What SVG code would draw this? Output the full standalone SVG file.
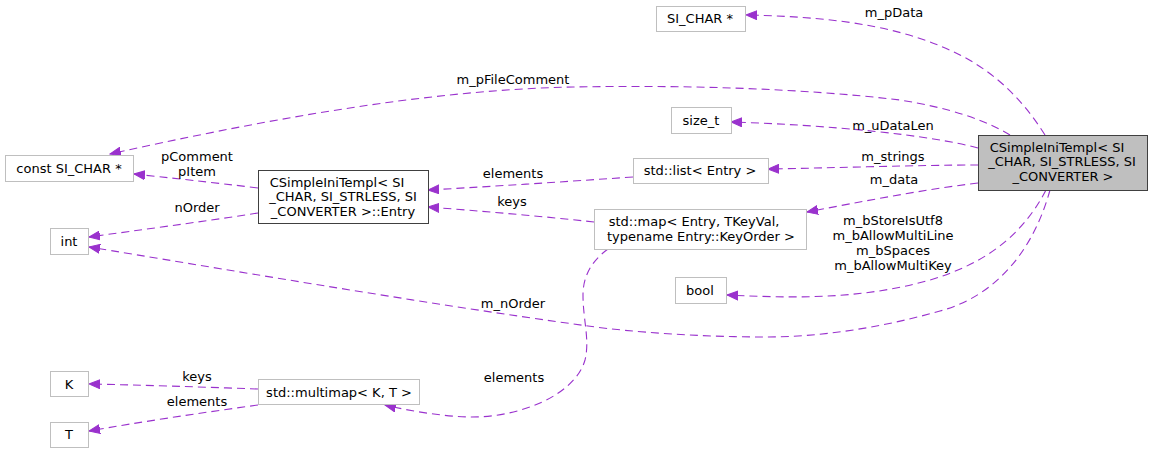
<svg xmlns="http://www.w3.org/2000/svg" width="1153" height="453" viewBox="0 0 1153 453">
<defs>
<style>
text{font-family:"DejaVu Sans","Liberation Sans",sans-serif;font-size:13px;fill:#000;text-anchor:middle}
.n{fill:#fff;stroke:#bfbfbf;stroke-width:1}
.nb{fill:#fff;stroke:#404040;stroke-width:1}
.nm{fill:#bfbfbf;stroke:#404040;stroke-width:1}
.e{fill:none;stroke:#9a32cd;stroke-width:1.1;stroke-dasharray:8,5;marker-end:url(#ah)}
</style>
<marker id="ah" markerUnits="userSpaceOnUse" markerWidth="12" markerHeight="10" refX="11" refY="4.5" orient="auto" viewBox="0 0 12 9">
<polygon points="0,0 11,4.5 0,9" fill="#9a32cd" stroke="#9a32cd"/>
</marker>
</defs>
<rect width="1153" height="453" fill="#fff"/>
<g id="edges">
<path class="e" d="M1045,135 C1020,95 990,70 960,55 C910,30 850,17 746,15"/>
<text x="894" y="16.5">m_pData</text>
<path class="e" d="M1010,135 C985,120 950,108 900,100 C800,88 680,85 573,87 C420,90 250,123 110,154"/>
<text x="513" y="83.5">m_pFileComment</text>
<path class="e" d="M978,148 C930,135 830,125 731,122"/>
<text x="893" y="129.5">m_uDataLen</text>
<path class="e" d="M978,165 C920,165 830,168 768,169"/>
<text x="893" y="160.5">m_strings</text>
<path class="e" d="M978,183 C920,190 860,202 807,212"/>
<text x="894" y="183.5">m_data</text>
<path class="e" d="M1046,190 C1020,240 980,265 930,280 C860,300 790,298 727,295"/>
<text x="893" y="224.5">m_bStoreIsUtf8</text>
<text x="893" y="239.5">m_bAllowMultiLine</text>
<text x="893" y="254.5">m_bSpaces</text>
<text x="893" y="269.5">m_bAllowMultiKey</text>
<path class="e" d="M1050,190 C1035,245 1000,295 940,311 C880,328 820,337 765,337 C700,337 630,332 588,326 C420,303 200,265 89,247"/>
<text x="513" y="307.5">m_nOrder</text>
<path class="e" d="M258,188 C210,182 170,178 134,174"/>
<text x="197" y="160.5">pComment</text>
<text x="197" y="175.5">pItem</text>
<path class="e" d="M258,213 C200,222 140,230 89,237"/>
<text x="197" y="211.5">nOrder</text>
<path class="e" d="M633,177 C560,182 500,186 428,190"/>
<text x="513" y="177.5">elements</text>
<path class="e" d="M594,222 C540,216 480,211 428,207"/>
<text x="512" y="205.5">keys</text>
<path class="e" d="M608,249 C590,262 583,278 583,295 C583,320 590,340 585,360 C575,395 520,418 468,417 C440,416 410,411 385,405"/>
<text x="514" y="381.5">elements</text>
<path class="e" d="M258,389 C200,387 140,385 89,384"/>
<text x="197" y="380.5">keys</text>
<path class="e" d="M258,405 C200,413 140,422 89,431"/>
<text x="197" y="405.5">elements</text>
</g>
<g id="n_sichar"><rect class="n" x="656.5" y="6.5" width="89" height="25"/><text x="700" y="23">SI_CHAR *</text></g>
<g id="n_constsichar"><rect class="n" x="5.5" y="155.5" width="128" height="26"/><text x="69" y="172.5">const SI_CHAR *</text></g>
<g id="n_int"><rect class="n" x="50.5" y="228.5" width="38" height="26"/><text x="69" y="245.5">int</text></g>
<g id="n_entry"><rect class="nb" x="258.5" y="170.5" width="170" height="53"/>
<text x="337" y="186.5">CSimpleIniTempl&lt; SI</text>
<text x="343" y="201">_CHAR, SI_STRLESS, SI</text>
<text x="343" y="215.5">_CONVERTER &gt;::Entry</text></g>
<g id="n_sizet"><rect class="n" x="671.5" y="107.5" width="60" height="26"/><text x="701" y="124.5">size_t</text></g>
<g id="n_list"><rect class="n" x="633.5" y="158.5" width="135" height="25"/><text x="700" y="174.5">std::list&lt; Entry &gt;</text></g>
<g id="n_map"><rect class="n" x="594.5" y="209.5" width="212" height="40"/>
<text x="694" y="225.5">std::map&lt; Entry, TKeyVal,</text>
<text x="701" y="240.5">typename Entry::KeyOrder &gt;</text></g>
<g id="n_bool"><rect class="n" x="675.5" y="277.5" width="51" height="26"/><text x="700" y="294.5">bool</text></g>
<g id="n_main"><rect class="nm" x="978.5" y="135.5" width="169" height="55"/>
<text x="1057" y="151.5">CSimpleIniTempl&lt; SI</text>
<text x="1062" y="166">_CHAR, SI_STRLESS, SI</text>
<text x="1063" y="180.5">_CONVERTER &gt;</text></g>
<g id="n_K"><rect class="n" x="50.5" y="371.5" width="38" height="25"/><text x="69" y="388.5">K</text></g>
<g id="n_T"><rect class="n" x="50.5" y="422.5" width="38" height="25"/><text x="69" y="439">T</text></g>
<g id="n_multimap"><rect class="n" x="258.5" y="379.5" width="161" height="25"/><text x="339" y="396.5">std::multimap&lt; K, T &gt;</text></g>
</svg>
